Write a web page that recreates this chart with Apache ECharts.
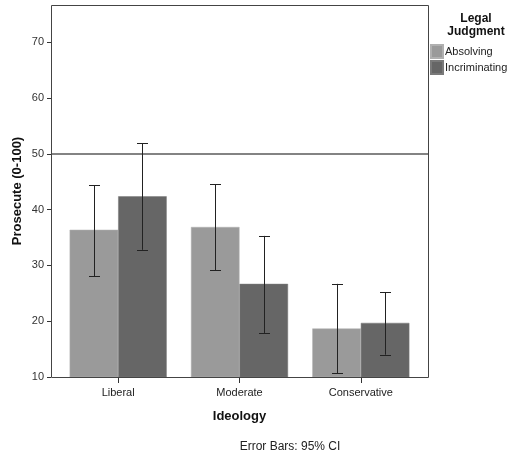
<!DOCTYPE html>
<html>
<head>
<meta charset="utf-8">
<script src="https://cdn.jsdelivr.net/npm/echarts@6/dist/echarts.min.js"></script>
<style>
  html, body { margin: 0; padding: 0; background: #fff; }
  #chart { width: 513px; height: 452px; }
</style>
</head>
<body>
<div id="chart"></div>
<script>
// Mean prosecution score by ideology and legal judgment, with 95% CI
const categories = ['Liberal', 'Moderate', 'Conservative'];
const seriesNames = ['Absolving', 'Incriminating'];
const absolvingMean = [36.4, 36.9, 18.7];
const absolvingLow = [28.1, 29.1, 10.7];
const absolvingHigh = [44.4, 44.6, 26.7];
const incriminatingMean = [42.4, 26.7, 19.7];
const incriminatingLow = [32.8, 17.9, 14.0];
const incriminatingHigh = [51.9, 35.3, 25.2];
const yTicks = [10, 20, 30, 40, 50, 60, 70];
const referenceValue = 50;

// Layout
const FONT = '"Liberation Sans", Arial, sans-serif';
const frame = { x: 51, y: 5, w: 377, h: 372 };
const inset = 6.5;            // space between frame and first/last category band
const barColors = ['#9a9a9a', '#666666'];

const chart = echarts.init(document.getElementById('chart'), null, { renderer: 'canvas' });

function errorData(low, high, s) {
  return categories.map((c, i) => [i, low[i], high[i], s]);
}

const errorSeries = {
  type: 'custom',
  name: 'ci',
  z: 5,
  encode: { x: 0, y: [1, 2] },
  data: errorData(absolvingLow, absolvingHigh, 0).concat(errorData(incriminatingLow, incriminatingHigh, 1)),
  renderItem: function (params, api) {
    const c = api.value(0);
    const s = api.value(3);
    const band = api.size([1, 0])[0];
    const off = (s === 0 ? -1 : 1) * band * 0.2;
    const lo = api.coord([c, api.value(1)]);
    const hi = api.coord([c, api.value(2)]);
    const x = Math.round(lo[0] + off) + 0.5;
    const cap = 5.5;
    const style = { stroke: '#222', lineWidth: 1 };
    return {
      type: 'group',
      children: [
        { type: 'line', shape: { x1: x, y1: hi[1], x2: x, y2: lo[1] }, style: style },
        { type: 'line', shape: { x1: x - cap, y1: Math.round(hi[1]) + 0.5, x2: x + cap, y2: Math.round(hi[1]) + 0.5 }, style: style },
        { type: 'line', shape: { x1: x - cap, y1: Math.round(lo[1]) + 0.5, x2: x + cap, y2: Math.round(lo[1]) + 0.5 }, style: style }
      ]
    };
  },
  markLine: {
    silent: true,
    symbol: 'none',
    label: { show: false },
    lineStyle: { color: '#5a5a5a', width: 1.5, type: 'solid' },
    data: [[{ x: frame.x, yAxis: referenceValue }, { x: frame.x + frame.w, yAxis: referenceValue }]]
  }
};

const option = {
  animation: false,
  backgroundColor: '#ffffff',
  textStyle: { fontFamily: FONT },
  title: [
    {
      text: 'Legal\nJudgment',
      left: 471, top: 7, textAlign: 'center',
      textStyle: { fontFamily: FONT, fontSize: 12, fontWeight: 'bold', color: '#111', lineHeight: 13 }
    },
    {
      text: 'Error Bars: 95% CI',
      left: 285, top: 436, textAlign: 'center',
      textStyle: { fontFamily: FONT, fontSize: 12, fontWeight: 'normal', color: '#222' }
    }
  ],
  legend: {
    data: seriesNames,
    orient: 'vertical',
    left: 430, top: 44,
    itemWidth: 12, itemHeight: 13, itemGap: 1,
    icon: 'rect',
    padding: 0,
    textStyle: { fontFamily: FONT, fontSize: 11, color: '#222', padding: [0, 0, 0, -3] },
    selectedMode: false
  },
  grid: {
    left: frame.x + inset,
    top: frame.y,
    width: frame.w - 2 * inset,
    height: frame.h,
    containLabel: false
  },
  xAxis: {
    type: 'category',
    data: categories,
    name: 'Ideology',
    nameLocation: 'middle',
    nameGap: 33,
    nameMoveOverlap: false,
    nameTextStyle: { fontFamily: FONT, fontSize: 13, fontWeight: 'bold', color: '#111' },
    axisLine: { show: false },
    axisTick: { show: true, alignWithLabel: true, length: 6, lineStyle: { color: '#333' } },
    axisLabel: { fontFamily: FONT, fontSize: 11, color: '#222', margin: 10 },
    splitLine: { show: false }
  },
  yAxis: {
    type: 'value',
    min: 10,
    max: 76.7,
    offset: inset,
    name: 'Prosecute (0-100)',
    nameLocation: 'middle',
    nameRotate: 90,
    nameGap: 27,
    nameMoveOverlap: false,
    nameTextStyle: { fontFamily: FONT, fontSize: 13, fontWeight: 'bold', color: '#111' },
    axisLine: { show: false },
    axisTick: { show: true, length: 4, lineStyle: { color: '#333' }, customValues: yTicks },
    axisLabel: { fontFamily: FONT, fontSize: 11, color: '#333', margin: 7, customValues: yTicks },
    splitLine: { show: false }
  },
  graphic: [
    {
      type: 'rect',
      z: 100,
      silent: true,
      shape: { x: frame.x + 0.5, y: frame.y + 0.5, width: frame.w, height: frame.h },
      style: { fill: 'none', stroke: '#444', lineWidth: 1 }
    }
  ],
  series: [
    {
      name: seriesNames[0],
      type: 'bar',
      data: absolvingMean,
      barGap: '0%',
      barCategoryGap: '20%',
      itemStyle: { color: barColors[0], borderColor: '#b0b0b0', borderWidth: 0.5 }
    },
    {
      name: seriesNames[1],
      type: 'bar',
      data: incriminatingMean,
      barGap: '0%',
      barCategoryGap: '20%',
      itemStyle: { color: barColors[1], borderColor: '#7a7a7a', borderWidth: 0.5 }
    },
    errorSeries
  ]
};

chart.setOption(option);
</script>
</body>
</html>
